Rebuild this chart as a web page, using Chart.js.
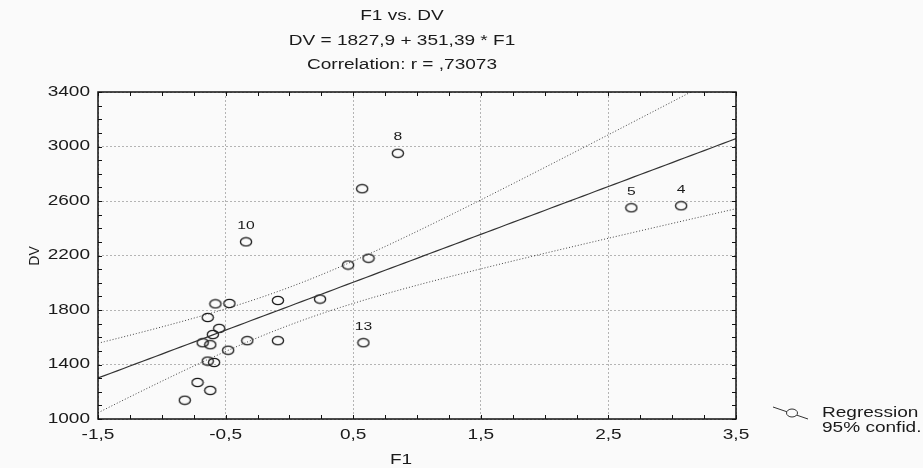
<!DOCTYPE html>
<html>
<head>
<meta charset="utf-8">
<script src="https://cdn.jsdelivr.net/npm/chart.js@4/dist/chart.umd.min.js"></script>
<style>
    body { margin: 0; background: #fafafa; }
    #wrap { width: 923px; height: 468px; }
</style>
</head>
<body>
<div id="wrap"><canvas id="chart1" width="923" height="468"></canvas></div>
<script>
// valores
const f1Values = [0.85, 0.57, -0.34, 0.46, 0.62, 2.68, 3.07, 0.58, 0.24, -0.09, -0.58, -0.47, -0.64,
    -0.55, -0.60, -0.68, -0.62, -0.33, -0.09, -0.48, -0.64, -0.59, -0.72, -0.62, -0.82];
const dvValues = [2950, 2690, 2300, 2130, 2180, 2550, 2565, 1560, 1880, 1870, 1845, 1848, 1745,
    1665, 1620, 1560, 1545, 1575, 1575, 1505, 1425, 1415, 1268, 1210, 1138];
const caseLabels = ['8', '', '10', '', '', '5', '4', '13', '', '', '', '', '',
    '', '', '', '', '', '', '', '', '', '', '', ''];

const xTicks = [-1.5, -0.5, 0.5, 1.5, 2.5, 3.5];
const yTicks = [1000, 1400, 1800, 2200, 2600, 3000, 3400];
const titleLines = ['F1 vs. DV', 'DV = 1827,9 + 351,39 * F1', 'Correlation: r = ,73073'];
const legendLabels = ['Regression', '95% confid.'];
const intercept = 1827.9;
const slope = 351.39;
const tCrit = 2.069;

// reta de regressão e intervalo de 95%
const n = f1Values.length;
const xMean = f1Values.reduce((a, b) => a + b, 0) / n;
const sxx = f1Values.reduce((sum, x) => sum + (x - xMean) ** 2, 0);
const sse = f1Values.reduce((sum, x, i) => sum + (dvValues[i] - (intercept + slope * x)) ** 2, 0);
const sRes = Math.sqrt(sse / (n - 2));

const linePts = [], upperPts = [], lowerPts = [];
for (let x = xTicks[0]; x <= xTicks[xTicks.length - 1] + 1e-9; x += 0.05) {
    const yHat = intercept + slope * x;
    const half = tCrit * sRes * Math.sqrt(1 / n + (x - xMean) ** 2 / sxx);
    linePts.push({ x: x, y: yHat });
    upperPts.push({ x: x, y: yHat + half });
    lowerPts.push({ x: x, y: yHat - half });
}

const FONT = '"Liberation Sans", Arial, sans-serif';
const STRETCH = 1.36;
const BG = '#fafafa';

// marcador oval como no original
function makeMarker() {
    const c = document.createElement('canvas');
    c.width = 14; c.height = 11;
    const g = c.getContext('2d');
    g.strokeStyle = '#1a1a1a';
    g.lineWidth = 1.3;
    g.beginPath();
    g.ellipse(7, 5.5, 5.6, 4.2, 0, 0, Math.PI * 2);
    g.stroke();
    return c;
}
const marker = makeMarker();

function wideText(ctx, text, x, y, align) {
    ctx.save();
    ctx.translate(x, y);
    ctx.scale(STRETCH, 1);
    ctx.textAlign = align || 'center';
    ctx.fillText(text, 0, 0);
    ctx.restore();
}

// rótulos dos eixos com o mesmo alargamento horizontal
function wideLabels(scale) {
    if (scale._wide) return;
    scale._wide = true;
    scale.drawLabels = function () {
        const ctx = this.ctx;
        this.getLabelItems().forEach(item => {
            const o = item.options;
            ctx.save();
            ctx.font = item.font.string;
            ctx.fillStyle = o.color;
            ctx.textAlign = o.textAlign;
            ctx.textBaseline = o.textBaseline;
            ctx.translate(o.translation[0], o.translation[1]);
            ctx.scale(STRETCH, 1);
            ctx.fillText(item.label, 0, item.textOffset);
            ctx.restore();
        });
    };
}

const extras = {
    id: 'extras',
    beforeDraw(chart) {
        wideLabels(chart.scales.x);
        wideLabels(chart.scales.y);
        const ctx = chart.ctx;
        ctx.save();
        ctx.fillStyle = BG;
        ctx.fillRect(0, 0, chart.width, chart.height);
        ctx.restore();
    },
    afterDatasetsDraw(chart) {
        const ctx = chart.ctx;
        const meta = chart.getDatasetMeta(3);
        ctx.save();
        ctx.fillStyle = '#1a1a1a';
        ctx.font = '11.5px ' + FONT;
        ctx.textBaseline = 'middle';
        meta.data.forEach((el, i) => {
            if (caseLabels[i]) wideText(ctx, caseLabels[i], el.x, el.y - 16);
        });
        ctx.restore();
    },
    afterDraw(chart) {
        const ctx = chart.ctx, a = chart.chartArea;
        const xs = chart.scales.x, ys = chart.scales.y;
        ctx.save();
        // moldura
        ctx.strokeStyle = '#111';
        ctx.lineWidth = 1.5;
        ctx.strokeRect(a.left, a.top, a.right - a.left, a.bottom - a.top);
        // marcas internas
        ctx.lineWidth = 1;
        ctx.beginPath();
        for (let v = xTicks[0]; v <= xTicks[xTicks.length - 1] + 1e-9; v += 0.25) {
            const px = Math.round(xs.getPixelForValue(v)) + 0.5;
            ctx.moveTo(px, a.bottom); ctx.lineTo(px, a.bottom - 4);
            ctx.moveTo(px, a.top); ctx.lineTo(px, a.top + 4);
        }
        for (let v = yTicks[0]; v <= yTicks[yTicks.length - 1]; v += 100) {
            const py = Math.round(ys.getPixelForValue(v)) + 0.5;
            ctx.moveTo(a.left, py); ctx.lineTo(a.left + 4, py);
            ctx.moveTo(a.right, py); ctx.lineTo(a.right - 4, py);
        }
        ctx.stroke();

        // títulos
        ctx.fillStyle = '#1a1a1a';
        ctx.font = '14px ' + FONT;
        ctx.textBaseline = 'middle';
        titleLines.forEach((t, i) => wideText(ctx, t, 402, 16.5 + i * 24.5));
        wideText(ctx, 'F1', 401, 460);
        ctx.save();
        ctx.translate(35, 256);
        ctx.rotate(-Math.PI / 2);
        ctx.textAlign = 'center';
        ctx.fillText('DV', 0, 0);
        ctx.restore();

        // legenda
        ctx.strokeStyle = '#333';
        ctx.lineWidth = 1;
        ctx.beginPath();
        ctx.moveTo(773, 407); ctx.lineTo(808, 419);
        ctx.stroke();
        ctx.fillStyle = BG;
        ctx.beginPath();
        ctx.ellipse(792, 413, 5.5, 4, 0, 0, Math.PI * 2);
        ctx.fill(); ctx.stroke();
        ctx.fillStyle = '#1a1a1a';
        legendLabels.forEach((t, i) => wideText(ctx, t, 822, 413 + i * 15, 'left'));
        ctx.restore();
    }
};

const ctx1 = document.getElementById('chart1').getContext('2d');
const chart1 = new Chart(ctx1, {
    type: 'scatter',
    data: {
        datasets: [
            { type: 'line', data: linePts, borderColor: '#333', borderWidth: 1.2, pointRadius: 0, fill: false },
            { type: 'line', data: upperPts, borderColor: '#444', borderWidth: 1, borderDash: [1, 2], pointRadius: 0, fill: false },
            { type: 'line', data: lowerPts, borderColor: '#444', borderWidth: 1, borderDash: [1, 2], pointRadius: 0, fill: false },
            {
                data: f1Values.map((x, i) => ({ x: x, y: dvValues[i] })),
                pointStyle: marker,
                pointRadius: 6
            }
        ]
    },
    options: {
        responsive: false,
        devicePixelRatio: 1,
        animation: false,
        layout: { padding: { left: 20, top: 92, right: 187, bottom: 0 } },
        plugins: { legend: { display: false }, tooltip: { enabled: false } },
        scales: {
            x: {
                type: 'linear',
                min: xTicks[0],
                max: xTicks[xTicks.length - 1],
                afterBuildTicks: scale => { scale.ticks = xTicks.map(v => ({ value: v })); },
                afterFit: scale => { scale.height = 49; },
                grid: { color: '#b4b4b4', drawTicks: false },
                border: { display: false, dash: [2, 2] },
                ticks: { padding: 8, color: '#1a1a1a', font: { size: 14, family: FONT },
                    callback: v => v.toFixed(1).replace('.', ',') }
            },
            y: {
                type: 'linear',
                min: yTicks[0],
                max: yTicks[yTicks.length - 1],
                afterBuildTicks: scale => { scale.ticks = yTicks.map(v => ({ value: v })); },
                afterFit: scale => { scale.width = 78; },
                grid: { color: '#b4b4b4', drawTicks: false },
                border: { display: false, dash: [2, 2] },
                ticks: { padding: 8, color: '#1a1a1a', font: { size: 14, family: FONT },
                    callback: v => String(v) }
            }
        }
    },
    plugins: [extras]
});
</script>
</body>
</html>
